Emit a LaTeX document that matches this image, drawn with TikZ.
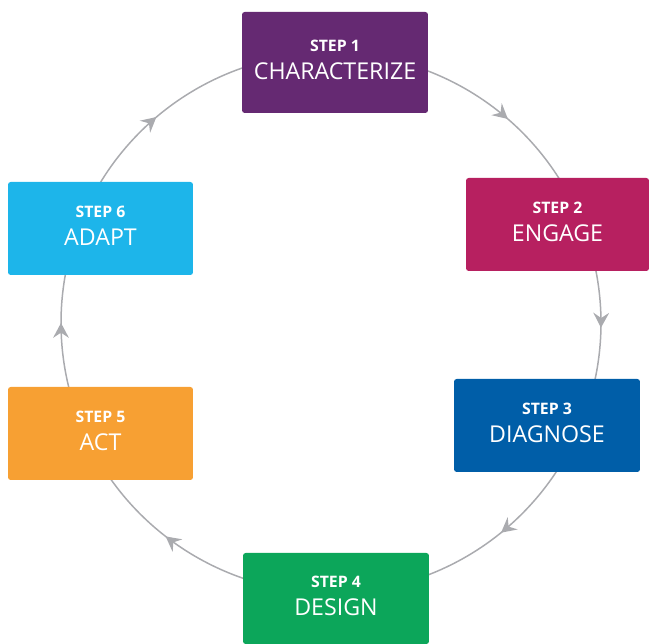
\documentclass[tikz,border=0pt]{standalone}
\usepackage{fontspec}
\setmainfont{Open Sans}
\usetikzlibrary{arrows.meta,decorations.markings}
\definecolor{stepone}{RGB}{101,41,114}
\definecolor{steptwo}{RGB}{183,32,96}
\definecolor{stepthree}{RGB}{0,94,168}
\definecolor{stepfour}{RGB}{12,166,90}
\definecolor{stepfive}{RGB}{247,160,51}
\definecolor{stepsix}{RGB}{29,181,234}
\definecolor{ringgray}{RGB}{170,171,175}
\newcommand{\steplabel}[2]{{\fontsize{9}{10}\selectfont\bfseries STEP #1}\\#2}
\tikzset{
  stepbox/.style={fill=#1, text=white, rounded corners=1.5pt, minimum width=3.72cm,
    minimum height=1.86cm, align=center, inner sep=0pt, text depth=3pt,
    font=\fontsize{13.2}{16.4}\selectfont},
  ringarc/.style={color=ringgray, line width=0.85pt, postaction={decorate},
    decoration={markings, mark=at position #1 with {\arrow{Stealth[length=8.5pt,width=9pt,inset=3pt]}}}}
}

\begin{document}
\begin{tikzpicture}[x=0.02cm, y=0.02cm]

	\useasboundingbox (0,0) rectangle (649,644);

	% centre of the ring and the points where it runs under each box
	\coordinate (c) at (331,321);
	\coordinate (k1) at ([shift={(90:270)}]c);
	\coordinate (k2) at ([shift={(24:270)}]c);
	\coordinate (k3) at ([shift={(-26:270)}]c);
	\coordinate (k4) at ([shift={(-90:270)}]c);
	\coordinate (k5) at ([shift={(-154:270)}]c);
	\coordinate (k6) at ([shift={(155:270)}]c);

	\draw[ringarc=0.62] (k1) arc[start angle=90, end angle=24, radius=270];
	\draw[ringarc=0.5] (k2) arc[start angle=24, end angle=-26, radius=270];
	\draw[ringarc=0.39] (k3) arc[start angle=-26, end angle=-90, radius=270];
	\draw[ringarc=0.59] (k4) arc[start angle=-90, end angle=-154, radius=270];
	\draw[ringarc=0.51] (k5) arc[start angle=-154, end angle=-205, radius=270];
	\draw[ringarc=0.38] (k6) arc[start angle=155, end angle=90, radius=270];

	% the six steps
	\node[stepbox=stepone, minimum height=2.02cm] (s1) at (335,581.5) {\steplabel{1}{CHARACTERIZE}};
	\node[stepbox=steptwo, minimum width=3.66cm] (s2) at (557.5,419.5) {\steplabel{2}{ENGAGE}};
	\node[stepbox=stepthree] (s3) at (547,218.5) {\steplabel{3}{DIAGNOSE}};
	\node[stepbox=stepfour, minimum height=1.82cm] (s4) at (336,45.5) {\steplabel{4}{DESIGN}};
	\node[stepbox=stepfive, minimum width=3.7cm] (s5) at (100.5,210.5) {\steplabel{5}{ACT}};
	\node[stepbox=stepsix, minimum width=3.7cm] (s6) at (100.5,415.5) {\steplabel{6}{ADAPT}};

\end{tikzpicture}
\end{document}
